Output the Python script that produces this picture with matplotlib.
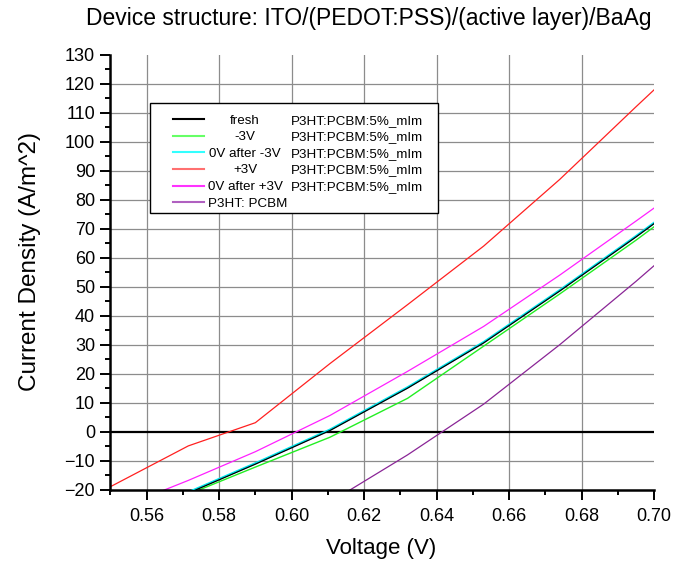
import matplotlib
matplotlib.use("Agg")
import matplotlib.pyplot as plt
from matplotlib.ticker import MultipleLocator, FixedLocator
from matplotlib.patches import Rectangle

plt.rcParams['font.family'] = ['Liberation Sans', 'DejaVu Sans']

# ---- data ----
voltage = [0.5495, 0.5715, 0.5900, 0.6106, 0.6320, 0.6530, 0.6740, 0.6950, 0.7155]
j_fresh = [-33.0, -21.2, -11.2, 0.4, 15.0, 30.6, 48.5, 67.1, 86.0]
j_m3v = [-32.6, -21.6, -12.2, -1.9, 11.5, 29.5, 47.5, 66.0, 85.0]
j_0v_after_m3v = [-32.7, -20.9, -10.9, 0.7, 15.3, 30.9, 48.8, 67.4, 86.3]
j_p3v = [-19.3, -4.9, 3.1, 23.5, 43.8, 64.0, 87.0, 112.0, 136.0]
j_0v_after_p3v = [-27.8, -16.8, -6.9, 5.6, 20.8, 36.3, 54.0, 72.6, 91.0]
j_ref = [-56.0, -44.0, -34.0, -24.3, -8.0, 9.5, 30.0, 51.8, 74.0]

legend_condition = ["fresh", "-3V", "0V after -3V", "+3V", "0V after +3V", "P3HT: PCBM"]
legend_material = ["P3HT:PCBM:5%_mIm"] * 5 + [""]

x_ticks = [0.56, 0.58, 0.60, 0.62, 0.64, 0.66, 0.68, 0.70]
x_tick_labels = ["0.56", "0.58", "0.60", "0.62", "0.64", "0.66", "0.68", "0.70"]
y_ticks = list(range(-20, 131, 10))
x_grid = [0.56, 0.58, 0.60, 0.62, 0.64, 0.66, 0.68]
y_grid = [-10] + list(range(10, 121, 10))

title = "Device structure: ITO/(PEDOT:PSS)/(active layer)/BaAg"
xlabel = "Voltage (V)"
ylabel = "Current Density (A/m^2)"

W, H = 674, 565

# ---- figure ----
fig = plt.figure(figsize=(W / 100, H / 100), dpi=100)
ax = fig.add_axes([0.1638, 0.1333, 0.9703 - 0.1638, 0.9032 - 0.1333])
ax.set_xlim(0.55, 0.70)
ax.set_ylim(-20, 130)

for gx in x_grid:
    ax.axvline(gx, color='#8c8c8c', lw=0.9, zorder=0)
for gy in y_grid:
    ax.axhline(gy, color='#8c8c8c', lw=0.9, zorder=0)
ax.axhline(0, color='black', lw=1.6, zorder=1)

lines = []
lines += ax.plot(voltage, j_fresh, color='black', lw=0.9, zorder=4)
lines += ax.plot(voltage, j_m3v, color='#22ee22', lw=1.0, zorder=2)
lines += ax.plot(voltage, j_0v_after_m3v, color='#00e5ee', lw=1.6, zorder=3)
lines += ax.plot(voltage, j_p3v, color='#ff2020', lw=0.9, zorder=2)
lines += ax.plot(voltage, j_0v_after_p3v, color='#ff20ff', lw=0.9, zorder=2)
lines += ax.plot(voltage, j_ref, color='#8a2596', lw=0.9, zorder=2)

legend_fs = 9.6
leg = ax.legend(lines, [" "] * len(lines), loc='upper left',
                bbox_to_anchor=(173 / W, 1 - 114.5 / H), bbox_transform=fig.transFigure,
                fontsize=legend_fs, frameon=False,
                handlelength=2.35, handletextpad=0.3, labelspacing=0.32,
                borderpad=0.0, borderaxespad=0.0)
leg.set_zorder(6)
leg_colors = ['black', '#66ff66', '#33ffff', '#ff7070', '#ff33ff', '#b060c0']
for lh, c in zip(leg.get_lines(), leg_colors):
    lh.set_linewidth(1.5)
    lh.set_color(c)

# legend frame
frame = Rectangle((150 / W, 1 - 213 / H), (438 - 150) / W, (213 - 103) / H,
                  transform=fig.transFigure, facecolor='white', edgecolor='black',
                  lw=1.0, zorder=5, clip_on=False)
ax.add_patch(frame)

ax.spines['top'].set_visible(False)
ax.spines['right'].set_visible(False)
ax.spines['left'].set_linewidth(1.8)
ax.spines['bottom'].set_linewidth(1.8)

ax.xaxis.set_major_locator(FixedLocator(x_ticks))
ax.set_xticklabels(x_tick_labels)
ax.xaxis.set_minor_locator(MultipleLocator(0.01))
ax.yaxis.set_major_locator(FixedLocator(y_ticks))
ax.yaxis.set_minor_locator(MultipleLocator(5))
ax.tick_params(which='major', direction='out', length=7, width=1.4, labelsize=13, pad=4)
ax.tick_params(axis='x', which='major', pad=6)
ax.tick_params(which='minor', direction='out', length=3.5, width=1.4)

fig.text(0.547, 0.968, title, ha='center', va='center', fontsize=16.5)
fig.text(0.565, 0.030, xlabel, ha='center', va='center', fontsize=16)
fig.text(0.045, 0.538, ylabel, ha='center', va='center', rotation=90, fontsize=17.5)

# legend texts in two columns, aligned to the legend handles
fig.canvas.draw()
renderer = fig.canvas.get_renderer()
for i, lh in enumerate(leg.get_lines()):
    bb = lh.get_window_extent(renderer)
    yc = ((bb.y0 + bb.y1) / 2 - 1.5) / H
    if i < 5:
        fig.text(245 / W, yc, legend_condition[i], ha='center', va='center',
                 fontsize=legend_fs, zorder=7)
    else:
        fig.text(207.5 / W, yc, legend_condition[i], ha='left', va='center',
                 fontsize=legend_fs, zorder=7)
    if legend_material[i]:
        fig.text(290.5 / W, yc, legend_material[i], ha='left', va='center',
                 fontsize=legend_fs, zorder=7)

fig.savefig('out.png', dpi=100)
